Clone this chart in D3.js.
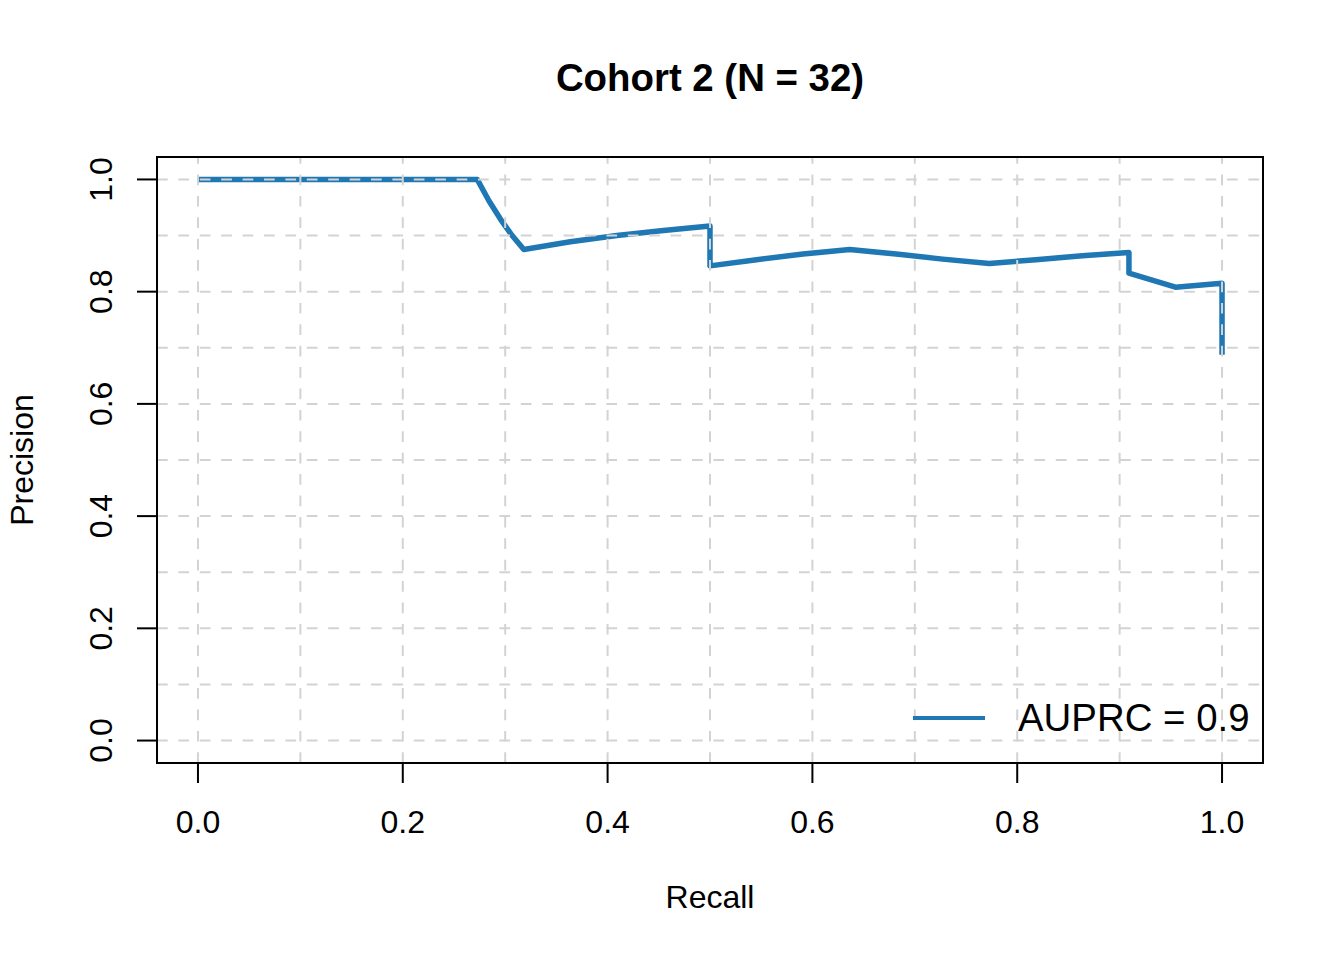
<!DOCTYPE html>
<html>
<head>
<meta charset="utf-8">
<style>
  body { margin: 0; background: #fff; }
  text { font-family: "Liberation Sans", Arial, Helvetica, sans-serif; fill: #000; }
</style>
</head>
<body>
<svg id="chart" width="1344" height="960" viewBox="0 0 1344 960" xmlns="http://www.w3.org/2000/svg"></svg>
<script src="https://d3js.org/d3.v7.min.js"></script>
<script>

// PR curve points
const recall = [0, 0.2727, 0.2841, 0.2955, 0.3068, 0.3182, 0.3636, 0.4091, 0.4545, 0.5, 0.5,
  0.5455, 0.5909, 0.6364, 0.6818, 0.7273, 0.7727, 0.8182, 0.8636, 0.9091, 0.9091, 0.9545, 1.0, 1.0];
const precision = [1, 1, 0.962, 0.929, 0.9, 0.875, 0.889, 0.9, 0.909, 0.917, 0.846,
  0.857, 0.867, 0.875, 0.867, 0.858, 0.85, 0.857, 0.864, 0.870, 0.833, 0.808, 0.815, 0.6875];

const ticks = [0, 0.2, 0.4, 0.6, 0.8, 1.0];
const gridVals = [0, 0.1, 0.2, 0.3, 0.4, 0.5, 0.6, 0.7, 0.8, 0.9, 1.0];
const title = "Cohort 2 (N = 32)";
const legendLabel = "AUPRC = 0.9";

const plot = { left: 157, right: 1263, top: 157, bottom: 763 };
const blue = "#1f77b4";

const svg = d3.select("#chart");

const x = d3.scaleLinear().domain([-0.04, 1.04]).range([plot.left, plot.right]);
const y = d3.scaleLinear().domain([-0.04, 1.04]).range([plot.bottom, plot.top]);

// curve (drawn first, grid sits on top of it like in R)
const pts = recall.map((r, i) => [r, precision[i]]);
svg.append("path")
  .datum(pts)
  .attr("d", d3.line().x(d => x(d[0])).y(d => y(d[1])))
  .attr("fill", "none")
  .attr("stroke", blue)
  .attr("stroke-width", 5.5)
  .attr("stroke-linejoin", "round");

// dashed grid
gridVals.forEach(v => {
  svg.append("line")
    .attr("x1", x(v)).attr("x2", x(v))
    .attr("y1", plot.bottom).attr("y2", plot.top)
    .attr("stroke", "#d3d3d3").attr("stroke-width", 2)
    .attr("stroke-dasharray", "10.7,10.7");
  svg.append("line")
    .attr("x1", plot.left).attr("x2", plot.right)
    .attr("y1", y(v)).attr("y2", y(v))
    .attr("stroke", "#d3d3d3").attr("stroke-width", 2)
    .attr("stroke-dasharray", "10.7,10.7");
});

// box
svg.append("rect")
  .attr("x", plot.left).attr("y", plot.top)
  .attr("width", plot.right - plot.left).attr("height", plot.bottom - plot.top)
  .attr("fill", "none").attr("stroke", "#000").attr("stroke-width", 2);

// x axis ticks + labels
ticks.forEach(t => {
  svg.append("line")
    .attr("x1", x(t)).attr("x2", x(t))
    .attr("y1", plot.bottom).attr("y2", plot.bottom + 20)
    .attr("stroke", "#000").attr("stroke-width", 2);
  svg.append("text")
    .attr("x", x(t)).attr("y", 833)
    .attr("text-anchor", "middle")
    .attr("font-size", "32px")
    .text(t.toFixed(1));
});

// y axis ticks + labels (rotated like R's las = 0)
ticks.forEach(t => {
  svg.append("line")
    .attr("x1", plot.left - 20).attr("x2", plot.left)
    .attr("y1", y(t)).attr("y2", y(t))
    .attr("stroke", "#000").attr("stroke-width", 2);
  svg.append("text")
    .attr("transform", `translate(112,${y(t)}) rotate(-90)`)
    .attr("text-anchor", "middle")
    .attr("font-size", "32px")
    .text(t.toFixed(1));
});

// axis titles
svg.append("text")
  .attr("x", (plot.left + plot.right) / 2).attr("y", 908)
  .attr("text-anchor", "middle")
  .attr("font-size", "32px")
  .text("Recall");

svg.append("text")
  .attr("transform", `translate(33,${(plot.top + plot.bottom) / 2}) rotate(-90)`)
  .attr("text-anchor", "middle")
  .attr("font-size", "32px")
  .text("Precision");

// main title
svg.append("text")
  .attr("x", (plot.left + plot.right) / 2).attr("y", 91)
  .attr("text-anchor", "middle")
  .attr("font-size", "38.4px")
  .attr("font-weight", "bold")
  .text(title);

// legend (no box)
svg.append("line")
  .attr("x1", 913).attr("x2", 985)
  .attr("y1", 718).attr("y2", 718)
  .attr("stroke", blue).attr("stroke-width", 4);
svg.append("text")
  .attr("x", 1018).attr("y", 731)
  .attr("font-size", "38.4px")
  .text(legendLabel);
</script>
</body>
</html>
